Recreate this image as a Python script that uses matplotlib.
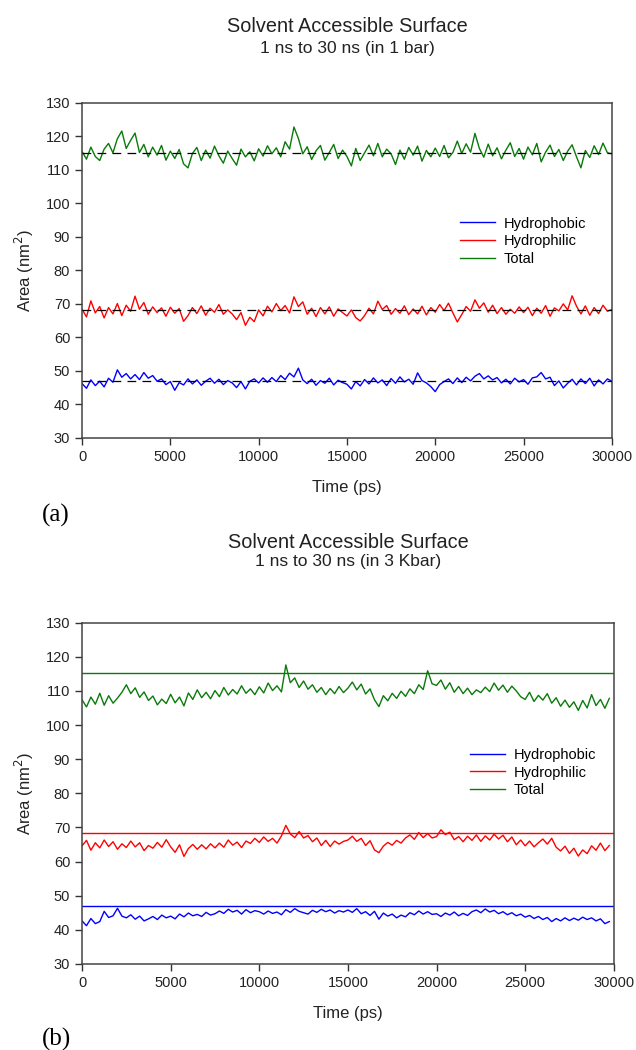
import numpy as np
import matplotlib
matplotlib.use("Agg")
import matplotlib.pyplot as plt

plt.rcParams['font.family'] = ['Liberation Sans', 'DejaVu Sans']

# time axis (ps), one value every 250 ps
time_a = np.arange(0, 30001, 250)
time_b = np.arange(0, 29751, 250)

# ---- panel (a): 1 bar ----
total_a = [
    115.5, 113.2, 116.8, 114.0, 112.8, 116.2, 117.9, 115.1, 119.3, 121.6, 116.4, 118.8, 121.0, 115.2, 117.6, 113.9, 116.8, 114.4, 117.3, 112.9,
    115.6, 113.4, 116.1, 111.8, 110.6, 114.9, 116.7, 112.8, 115.9, 113.5, 117.1, 114.2, 112.0, 115.6, 113.4, 111.4, 116.2, 113.9, 115.4, 112.7,
    116.3, 114.1, 117.2, 114.8, 116.6, 113.9, 118.4, 116.2, 122.8, 119.4, 114.8, 116.9, 113.1, 115.7, 117.3, 112.9, 115.2, 117.6, 113.4, 115.9,
    114.0, 111.2, 116.4, 112.8, 115.1, 117.4, 114.2, 117.9, 113.9, 116.2, 114.8, 111.6, 115.9, 113.2, 116.7, 114.4, 117.1, 112.6, 115.8, 113.9,
    116.5, 114.0, 117.3, 113.6, 115.2, 118.6, 114.9, 117.8, 115.3, 120.9, 116.4, 113.8, 117.7, 114.2, 116.6, 113.3, 115.9, 118.1, 114.0, 116.4,
    113.2, 116.8, 114.5, 117.9, 112.4, 115.3, 117.4, 114.0, 116.1, 112.8, 115.6, 117.5, 113.9, 110.6, 115.8, 113.7, 117.2, 114.6, 118.0, 115.1,
    114.8]
philic_a = [
    68.4, 66.1, 70.9, 67.3, 69.2, 65.8, 68.9, 67.0, 70.1, 66.5, 69.6, 67.8, 72.3, 68.4, 70.4, 66.9, 69.1, 67.4, 68.8, 66.3,
    69.0, 67.2, 68.6, 64.8, 66.5, 68.9, 67.1, 69.4, 66.6, 68.7, 67.5, 69.8, 66.9, 68.2, 67.0, 65.3, 67.4, 63.6, 66.0, 64.7,
    68.2, 66.4, 69.3, 67.6, 70.1, 68.0, 69.5, 67.3, 72.1, 69.2, 70.6, 66.9, 68.7, 66.2, 68.9, 67.0, 69.1, 66.3, 68.5, 67.4,
    66.4, 68.2, 65.9, 64.9, 66.5, 68.7, 67.0, 70.8, 68.3, 69.5, 66.9, 68.6, 67.2, 69.4, 66.8, 68.5, 67.0, 69.3, 66.7, 68.9,
    67.5, 69.8, 68.0, 70.2, 67.3, 64.6, 66.8, 69.2, 67.8, 71.2, 68.7, 70.3, 67.5, 69.6, 67.1, 68.9, 66.9, 68.4, 67.2, 69.1,
    67.4, 69.0, 66.5, 68.7, 67.2, 69.5, 66.3, 68.8, 67.9, 70.0, 68.2, 72.4, 69.3, 67.0, 69.4, 66.6, 68.9, 67.1, 69.6, 67.8,
    68.3]
phobic_a = [
    46.2, 44.8, 47.3, 45.6, 46.9, 45.2, 47.8, 46.6, 50.3, 48.1, 49.2, 47.6, 48.9, 47.4, 49.5, 47.8, 48.6, 46.9, 47.6, 45.9,
    46.8, 44.2, 46.5, 45.8, 47.6, 46.1, 47.3, 45.7, 46.9, 47.8, 46.3, 47.5, 45.9, 47.1, 46.4, 45.0, 46.8, 44.6, 46.9, 47.6,
    46.4, 47.9, 46.6, 48.0, 46.8, 48.6, 47.4, 49.3, 48.2, 50.8, 47.3, 46.2, 47.5, 45.7, 47.1, 46.3, 47.8, 45.8, 47.2, 46.5,
    46.0, 44.6, 46.8, 45.5, 47.4, 46.1, 47.9, 46.4, 47.3, 45.6, 47.7, 46.3, 48.2, 46.7, 47.5, 46.0, 49.4, 47.1, 46.4, 45.3,
    43.8, 45.9, 46.8, 47.6, 46.2, 47.9, 46.5, 48.1, 47.0, 48.4, 49.2, 47.6, 48.5, 47.3, 48.0, 46.4, 47.5, 46.1, 47.8, 46.7,
    47.4, 46.0, 47.9, 48.2, 49.5, 47.6, 48.1, 45.6, 47.0, 44.9, 46.3, 47.5, 45.8, 47.6, 46.2, 47.8, 45.5, 47.3, 46.1, 47.6,
    46.9]

# ---- panel (b): 3 Kbar ----
total_b = [
    107.4, 105.3, 108.2, 106.1, 109.3, 105.8, 108.6, 106.4, 107.9, 109.6, 111.8, 109.2, 110.9, 108.1, 109.7, 107.2, 108.5, 105.9, 107.6, 106.3,
    109.0, 106.5, 108.2, 105.6, 109.4, 107.5, 110.3, 108.0, 109.6, 107.7, 110.1, 108.3, 111.0, 108.8, 110.4, 109.1, 111.5, 109.3, 110.6, 108.9,
    111.2, 109.4, 112.3, 110.1, 111.5, 109.7, 117.6, 112.4, 113.8, 111.0, 112.9, 110.5, 111.8, 109.6, 111.0, 108.9, 110.7, 109.2, 111.3, 109.5,
    110.8, 112.6, 110.3, 112.0, 109.1, 110.6, 107.4, 105.4, 108.6, 107.1, 109.3, 107.8, 109.9, 108.4, 110.6, 109.2, 111.8, 110.4, 115.9, 112.1,
    111.6, 113.2, 110.5, 112.4, 109.6, 111.3, 109.2, 110.8, 108.9, 110.3, 109.5, 111.1, 109.8, 112.3, 110.2, 111.7, 109.6, 111.4, 110.0, 108.3,
    107.5, 109.6, 106.9, 108.7, 107.3, 109.2, 106.4, 108.0, 105.5, 107.3, 105.2, 106.8, 104.3, 107.2, 105.0, 108.9, 105.7, 107.5, 104.9, 107.8]
philic_b = [
    64.6, 66.2, 63.3, 65.5, 64.0, 66.3, 64.4, 65.8, 63.6, 65.2, 64.1, 66.0, 64.3, 65.5, 63.2, 64.7, 63.9, 65.6, 64.2, 66.4,
    64.3, 62.7, 64.9, 61.5, 63.8, 65.0, 63.6, 64.9, 63.7, 65.2, 64.0, 65.4, 64.2, 66.3, 64.8, 65.7, 64.1, 66.0, 65.3, 66.8,
    65.6, 67.2, 65.9, 66.8, 65.4, 67.5, 70.6, 68.1, 67.0, 68.8, 66.9, 67.6, 65.8, 66.9, 64.7, 66.2, 64.4, 66.0, 65.1, 65.9,
    66.3, 67.4, 65.9, 66.8, 64.7, 66.1, 63.4, 62.6, 64.5, 65.6, 64.8, 66.2, 65.4, 66.9, 67.8, 66.5, 68.5, 67.0, 68.2, 66.9,
    67.3, 69.3, 67.9, 68.6, 66.4, 67.3, 65.8, 67.4, 66.2, 67.8, 65.9, 67.5, 66.3, 68.0, 66.6, 67.7, 65.8, 67.2, 64.9, 66.3,
    64.6, 66.0, 64.3, 65.5, 66.6, 65.1, 66.8, 64.2, 63.1, 64.5, 62.4, 63.9, 61.6, 63.4, 62.3, 64.6, 63.3, 65.4, 63.2, 64.7]
phobic_b = [
    42.6, 41.2, 43.3, 41.8, 42.4, 45.4, 43.6, 44.1, 46.3, 44.0, 43.5, 44.4, 43.1, 44.0, 42.6, 43.2, 43.9, 43.0, 44.3, 43.5,
    44.0, 43.2, 44.6, 43.8, 44.9, 44.1, 44.5, 43.9, 45.1, 44.3, 44.7, 45.5, 44.8, 46.0, 45.2, 45.7, 44.6, 45.9, 45.0, 45.6,
    45.3, 44.6, 45.5, 44.8, 45.2, 44.4, 45.9, 45.1, 46.2, 45.4, 45.0, 44.6, 45.7, 45.1, 46.0, 45.3, 45.8, 44.9, 45.6, 45.2,
    45.8, 45.1, 46.2, 44.7, 45.3, 44.2, 45.4, 43.1, 44.9, 44.0, 44.6, 43.5, 44.3, 43.8, 45.0, 44.4, 45.5, 44.6, 45.3, 44.5,
    44.7, 43.9, 44.9, 44.3, 45.2, 44.1, 44.8, 44.2, 45.3, 45.8, 45.0, 46.1, 45.2, 45.7, 44.7, 45.3, 44.4, 45.0, 44.1, 44.6,
    43.7, 44.2, 43.3, 43.9, 43.0, 43.6, 42.4, 43.3, 42.6, 43.5, 42.7, 43.4, 42.8, 43.7, 43.0, 43.5, 42.6, 43.2, 41.8, 42.4]

# 1 bar averages (hydrophobic, hydrophilic, total)
mean_1bar = [47.0, 68.3, 115.1]

labels = ['Hydrophobic', 'Hydrophilic', 'Total']
colors = ['#0000ff', '#ff0000', '#0a7a0a']
subtitles = ['1 ns to 30 ns (in 1 bar)', '1 ns to 30 ns (in 3 Kbar)']

fig = plt.figure(figsize=(6.36, 10.5), dpi=100)
ax_a = fig.add_axes([0.129, 0.583, 0.833, 0.319])
ax_b = fig.add_axes([0.129, 0.082, 0.836, 0.325])


def style_axes(ax):
    ax.set_xlim(0, 30000)
    ax.set_ylim(30, 130)
    ax.set_xticks(np.arange(0, 30001, 5000))
    ax.set_yticks(np.arange(30, 131, 10))
    ax.tick_params(direction='out', length=5, width=1, colors='#333333',
                   labelsize=10.5, labelcolor='#222222', top=False, right=False)
    for sp in ax.spines.values():
        sp.set_color('#444444')
        sp.set_linewidth(1.1)
    ax.set_xlabel('Time (ps)', fontsize=12, color='#222222', labelpad=12)
    ax.set_ylabel('Area (nm$^2$)', fontsize=12, color='#222222', labelpad=7)


# panel (a)
for ys, lab, col in zip([phobic_a, philic_a, total_a], labels, colors):
    ax_a.plot(time_a, ys, color=col, lw=1.0, label=lab)
for m in mean_1bar:
    ax_a.axhline(m, color='black', lw=0.9, linestyle=(0, (7, 5)), zorder=3)
style_axes(ax_a)
ax_a.legend(loc='upper left', bbox_to_anchor=(0.703, 0.678), frameon=False,
            fontsize=10.5, handlelength=2.4, handletextpad=0.6,
            labelspacing=0.25, borderaxespad=0)

# panel (b)
for ys, lab, col, m in zip([phobic_b, philic_b, total_b], labels, colors, mean_1bar):
    ax_b.plot(time_b, ys, color=col, lw=1.0, label=lab)
    ax_b.axhline(m, color=col, lw=1.0)
style_axes(ax_b)
ax_b.legend(loc='upper left', bbox_to_anchor=(0.718, 0.65), frameon=False,
            fontsize=10.5, handlelength=2.4, handletextpad=0.6,
            labelspacing=0.25, borderaxespad=0)

# titles, placed a fixed distance above each plot box
for ax, sub, off_t, off_s in zip([ax_a, ax_b], subtitles, [55, 58], [39, 44]):
    ax.annotate('Solvent Accessible Surface', xy=(0.5, 1), xycoords='axes fraction',
                xytext=(0, off_t), textcoords='offset points',
                ha='center', va='center', fontsize=14.3, color='#222222')
    ax.annotate(sub, xy=(0.5, 1), xycoords='axes fraction',
                xytext=(0, off_s), textcoords='offset points',
                ha='center', va='center', fontsize=12.5, color='#222222')

fig.text(0.066, 1 - 515 / 1050, '(a)', fontsize=18, family='Liberation Serif', va='center')
fig.text(0.066, 1 - 1039 / 1050, '(b)', fontsize=18, family='Liberation Serif', va='center')

fig.savefig('out.png', dpi=100)
